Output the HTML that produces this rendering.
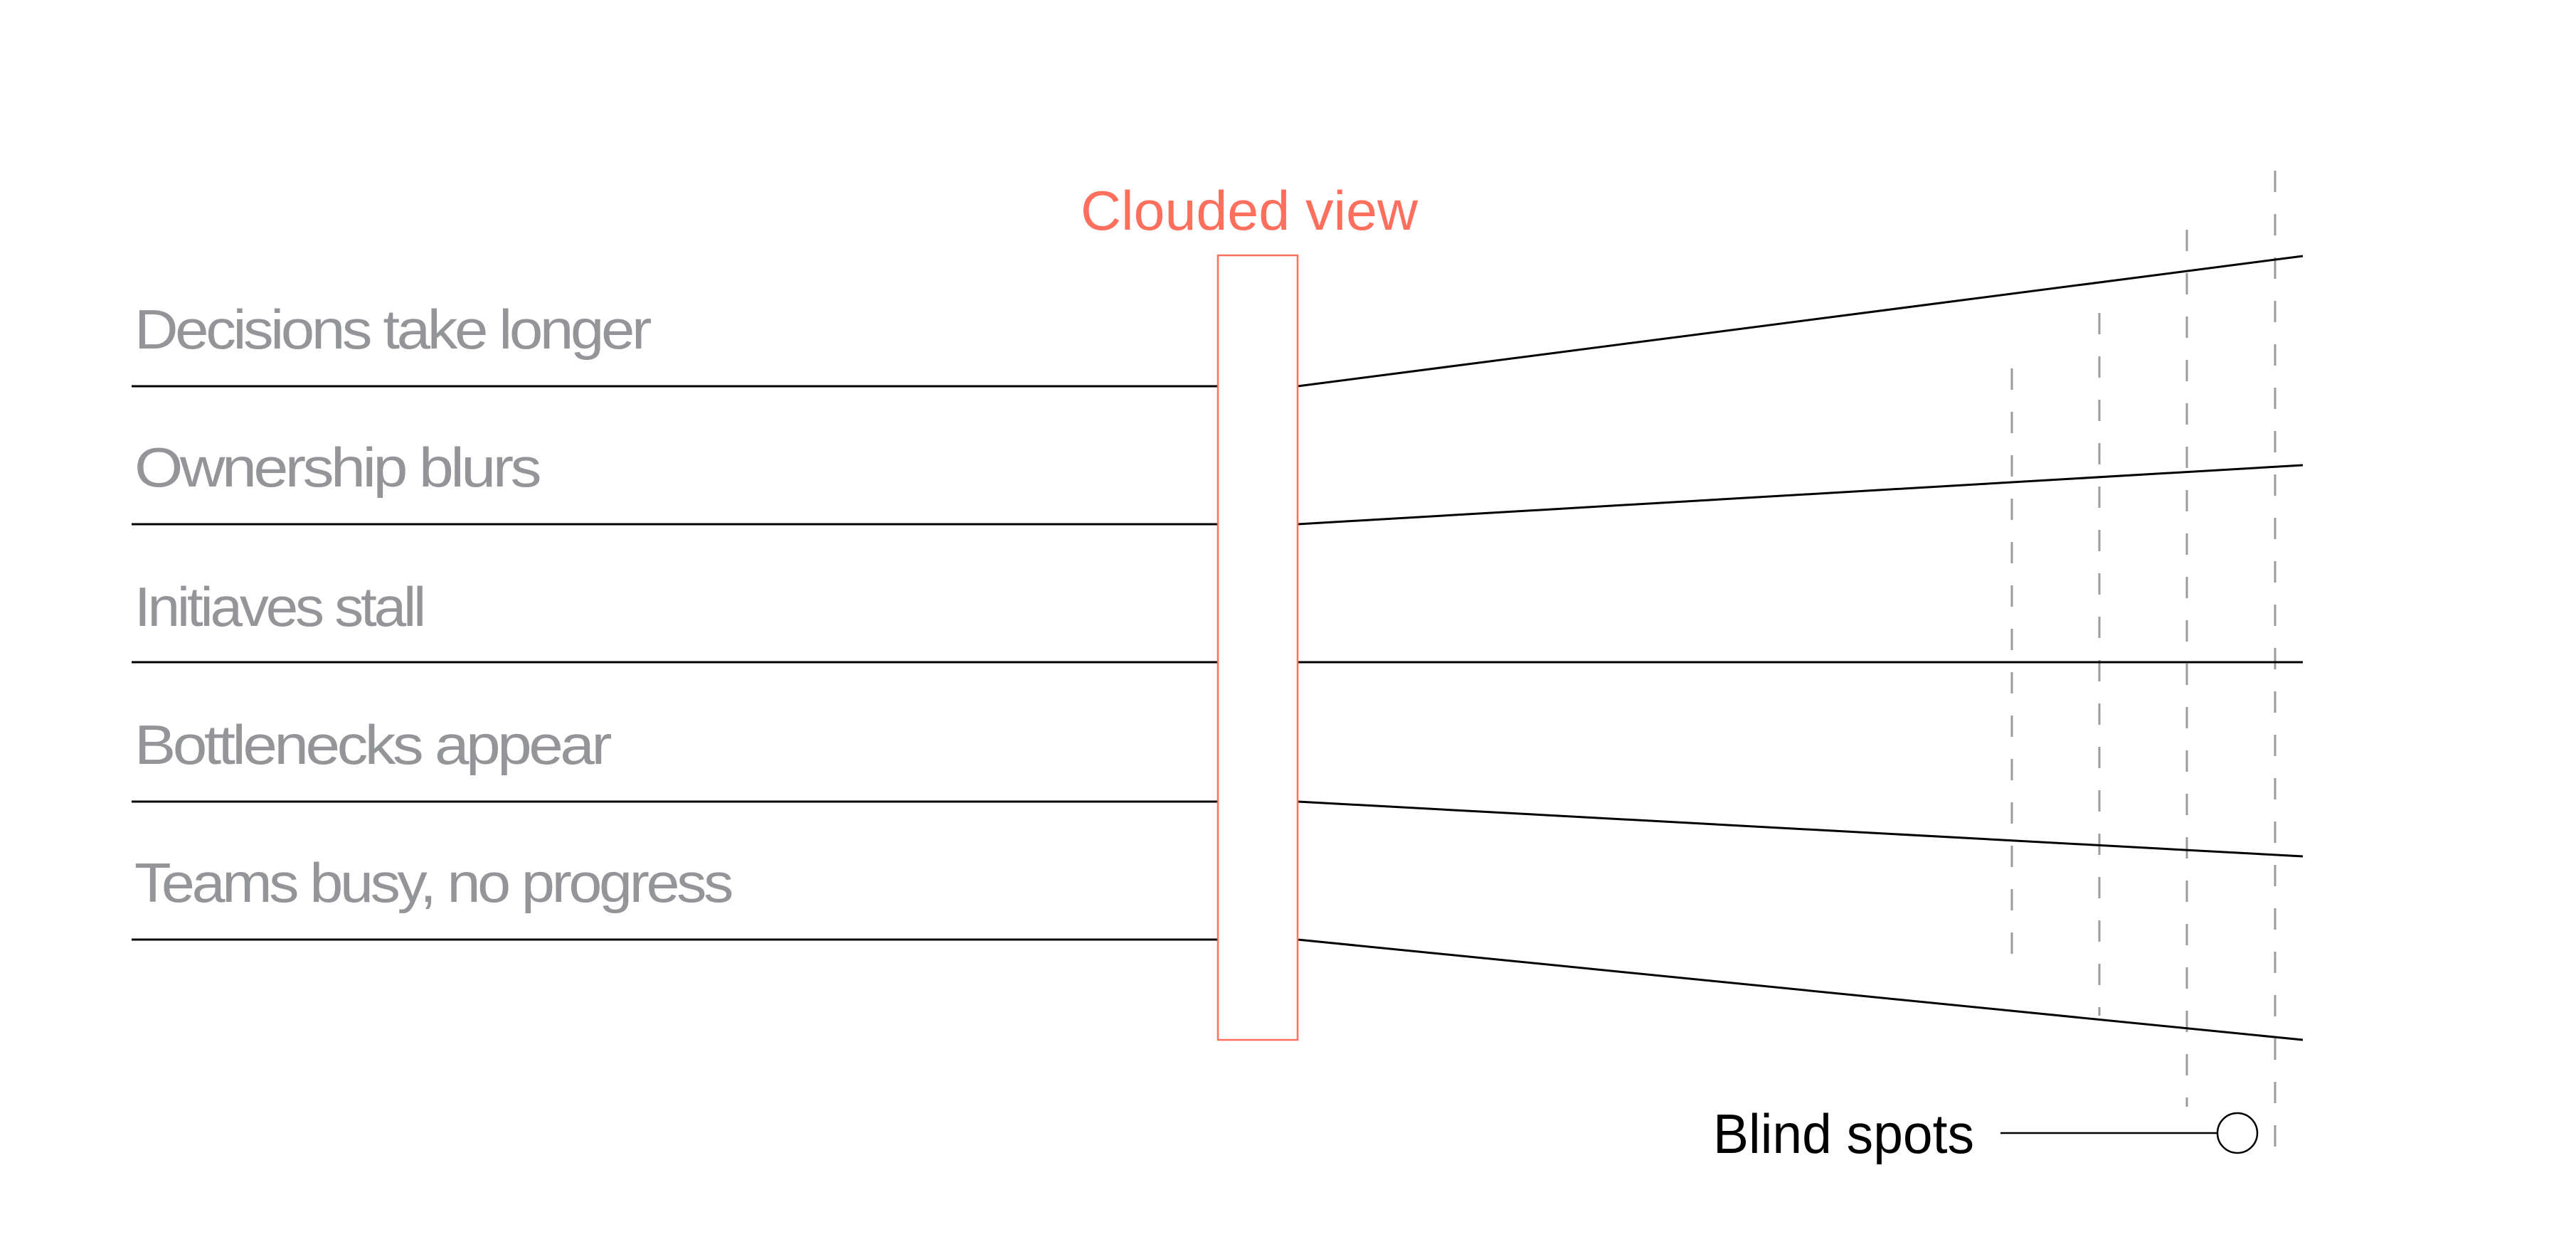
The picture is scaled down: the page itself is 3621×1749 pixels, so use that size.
<!DOCTYPE html>
<html><head><meta charset="utf-8"><style>
html,body{margin:0;padding:0;background:#fff;}
svg{display:block;}
text{font-family:"Liberation Sans",sans-serif;}
</style></head><body>
<svg width="3621" height="1749" viewBox="0 0 3621 1749" xmlns="http://www.w3.org/2000/svg">
<rect width="3621" height="1749" fill="#fff"/>
<g fill="#939598" font-size="78" letter-spacing="-4">
<text x="189" y="490" textLength="723" lengthAdjust="spacingAndGlyphs">Decisions take longer</text>
<text x="189" y="684" textLength="568" lengthAdjust="spacingAndGlyphs">Ownership blurs</text>
<text x="189" y="880" textLength="406" lengthAdjust="spacingAndGlyphs">Initiaves stall</text>
<text x="189" y="1074" textLength="667" lengthAdjust="spacingAndGlyphs">Bottlenecks appear</text>
<text x="189" y="1268" textLength="838" lengthAdjust="spacingAndGlyphs">Teams busy, no progress</text>
</g>
<text x="1519" y="323" fill="#FF6F5E" font-size="78" textLength="474" lengthAdjust="spacingAndGlyphs">Clouded view</text>
<text x="2408" y="1621" fill="#000" font-size="78" textLength="367" lengthAdjust="spacingAndGlyphs">Blind spots</text>
<g stroke="#9a9b9d" stroke-width="3" stroke-dasharray="30 31" fill="none">
<line x1="2828" y1="518" x2="2828" y2="1345"/>
<line x1="2951" y1="440" x2="2951" y2="1428"/>
<line x1="3074" y1="323" x2="3074" y2="1556"/>
<line x1="3198" y1="240" x2="3198" y2="1640"/>
</g>
<g stroke="#000" stroke-width="3" fill="none">
<line x1="185" y1="543" x2="1711" y2="543"/>
<line x1="185" y1="737" x2="1711" y2="737"/>
<line x1="185" y1="931" x2="1711" y2="931"/>
<line x1="185" y1="1127" x2="1711" y2="1127"/>
<line x1="185" y1="1321" x2="1711" y2="1321"/>
<line x1="1824" y1="543" x2="3237" y2="360"/>
<line x1="1824" y1="737" x2="3237" y2="654"/>
<line x1="1824" y1="931" x2="3237" y2="931"/>
<line x1="1824" y1="1127" x2="3237" y2="1204"/>
<line x1="1824" y1="1321" x2="3237" y2="1462"/>
<line x1="2812" y1="1593" x2="3116" y2="1593" stroke-width="2.5"/>
<circle cx="3145" cy="1593" r="28" stroke-width="2.5"/>
</g>
<rect x="1712" y="359" width="112" height="1103" fill="none" stroke="#FF6F5E" stroke-width="2.5"/>
</svg>
</body></html>
